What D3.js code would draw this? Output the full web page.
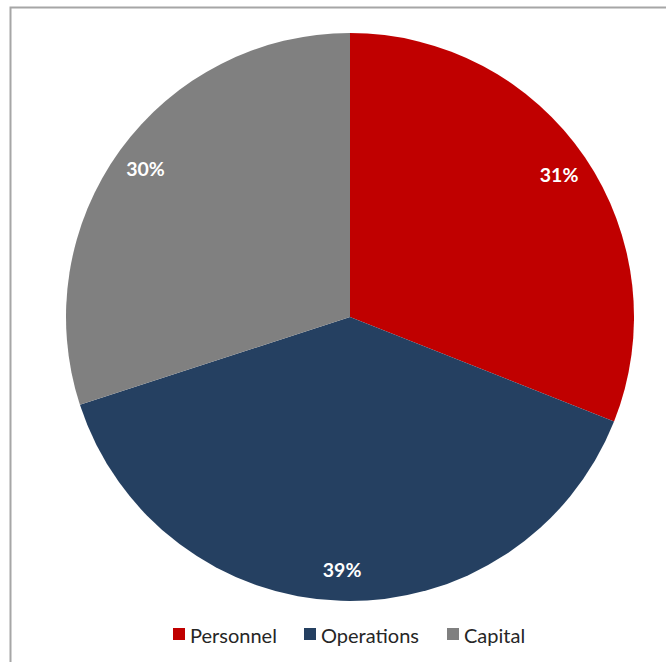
<!DOCTYPE html>
<html>
<head>
<meta charset="utf-8">
<script src="https://cdn.jsdelivr.net/npm/d3@7"></script>
<style>
  html, body { margin: 0; padding: 0; background: #ffffff; }
  svg { display: block; }
</style>
</head>
<body>
<svg id="chart" width="666" height="662"></svg>
<script>
// Budget share by category (percent)
const categories = ["Personnel", "Operations", "Capital"];
const shares = [31, 39, 30];
const colors = ["#C00000", "#254061", "#808080"];

const width = 666, height = 662;
const cx = 350, cy = 317, radius = 284;

const svg = d3.select("#chart");

// Chart frame (runs off the right and bottom edges)
svg.append("path")
  .attr("d", `M10.5,${height} V7.5 H${width}`)
  .attr("fill", "none")
  .attr("stroke", "#a6a6a6")
  .attr("stroke-width", 2);

const data = categories.map((c, i) => ({ category: c, value: shares[i], color: colors[i] }));

const pie = d3.pie().value(d => d.value).sort(null);
const arcs = pie(data);

const arc = d3.arc().innerRadius(0).outerRadius(radius);
const labelArc = d3.arc().innerRadius(radius * 0.89).outerRadius(radius * 0.89);

const g = svg.append("g").attr("transform", `translate(${cx},${cy})`);

g.selectAll("path.slice")
  .data(arcs)
  .join("path")
  .attr("class", "slice")
  .attr("d", arc)
  .attr("fill", d => d.data.color);

g.selectAll("text.pct")
  .data(arcs)
  .join("text")
  .attr("class", "pct")
  .attr("transform", d => `translate(${labelArc.centroid(d)})`)
  .attr("text-anchor", "middle")
  .attr("dominant-baseline", "central")
  .attr("fill", "#ffffff")
  .attr("font-family", "Lato, 'Open Sans', sans-serif")
  .attr("font-weight", "bold")
  .attr("font-size", 19.5)
  .text(d => d.data.value + "%");

// Legend
const legendX = [173, 304, 447];
const legend = svg.append("g");
const items = legend.selectAll("g.item")
  .data(data)
  .join("g")
  .attr("class", "item")
  .attr("transform", (d, i) => `translate(${legendX[i]},628)`);

items.append("rect")
  .attr("width", 12)
  .attr("height", 12)
  .attr("fill", d => d.color);

items.append("text")
  .attr("x", 17)
  .attr("y", 14.5)
  .attr("fill", "#262626")
  .attr("font-family", "Lato, 'Open Sans', sans-serif")
  .attr("font-size", 20)
  .text(d => d.category);
</script>
</body>
</html>
